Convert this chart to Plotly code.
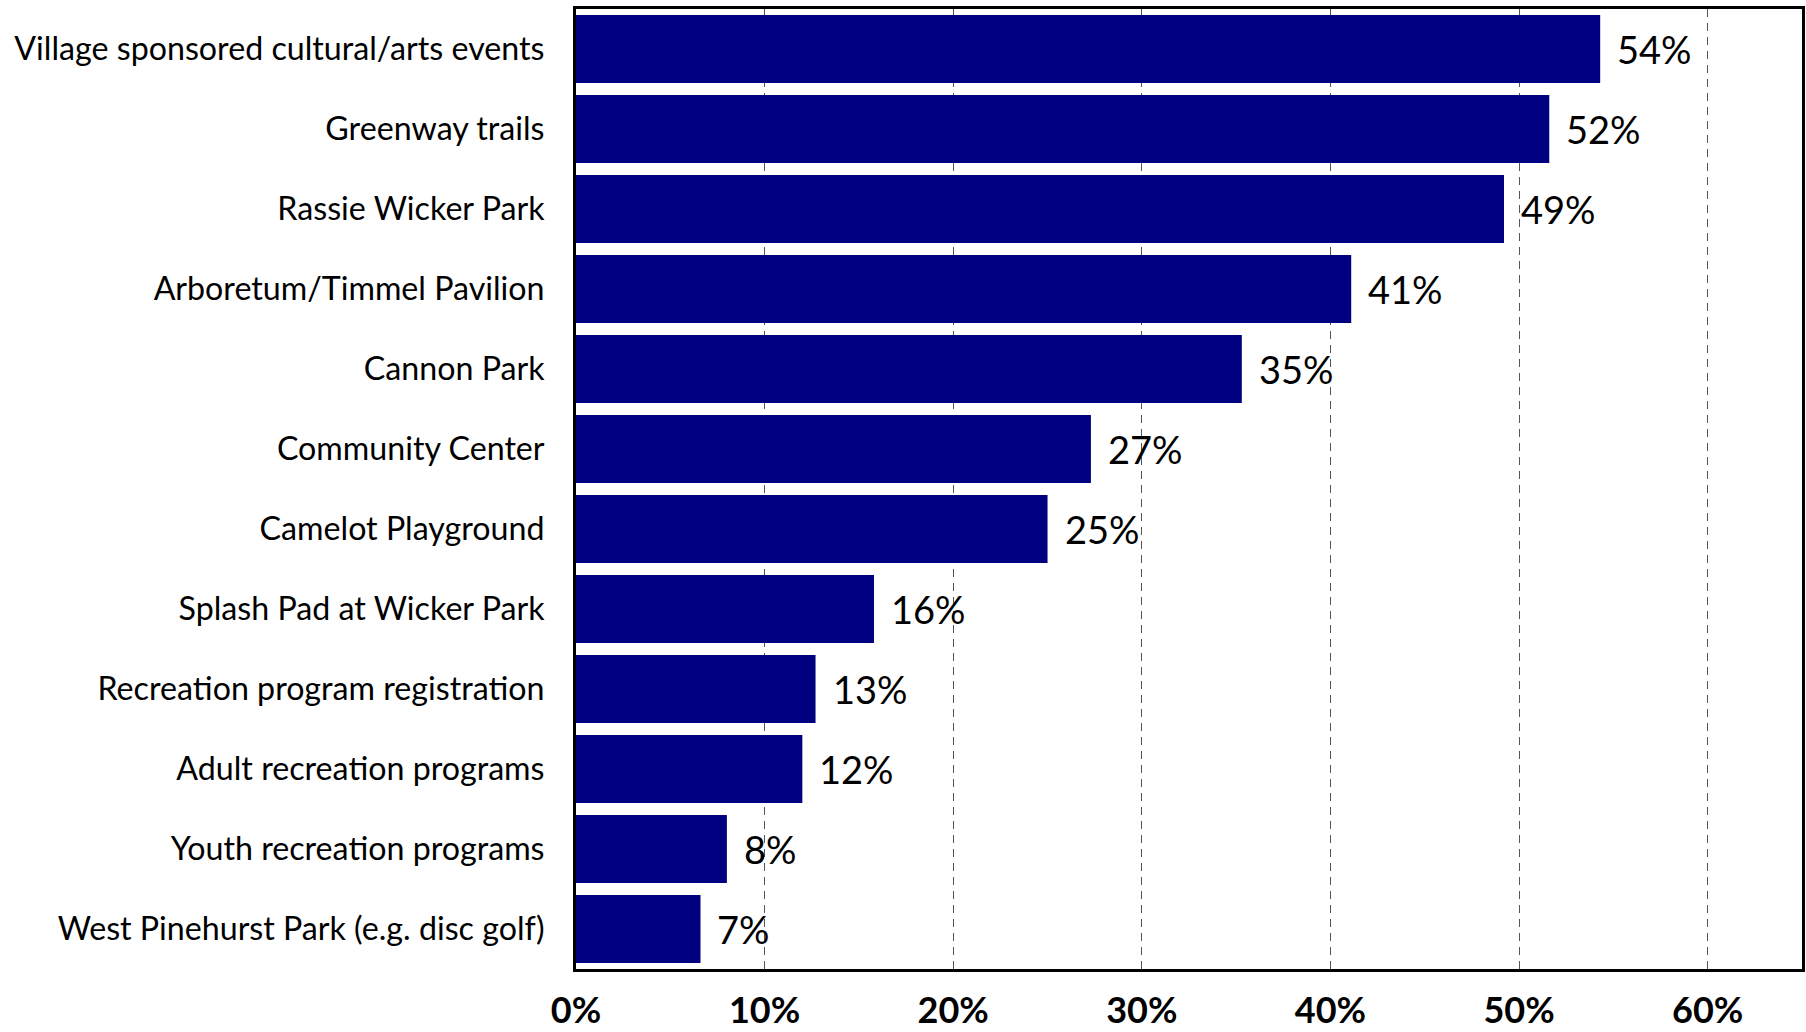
import plotly.graph_objects as go

# Share of respondents who used each facility or program
categories = [
    "Village sponsored cultural/arts events",
    "Greenway trails",
    "Rassie Wicker Park",
    "Arboretum/Timmel Pavilion",
    "Cannon Park",
    "Community Center",
    "Camelot Playground",
    "Splash Pad at Wicker Park",
    "Recreation program registration",
    "Adult recreation programs",
    "Youth recreation programs",
    "West Pinehurst Park (e.g. disc golf)",
]
percent_used = [54.3, 51.6, 49.2, 41.1, 35.3, 27.3, 25.0, 15.8, 12.7, 12.0, 8.0, 6.6]
x_tick_values = [0, 10, 20, 30, 40, 50, 60]
x_tick_labels = ["0%", "10%", "20%", "30%", "40%", "50%", "60%"]

BAR_COLOR = "#000080"
FONT = "Lato"

fig = go.Figure()
fig.add_trace(go.Bar(
    x=percent_used,
    y=categories,
    orientation="h",
    marker=dict(color=BAR_COLOR, line=dict(width=0)),
    hoverinfo="skip",
))

# value labels to the right of each bar
for cat, val in zip(categories, percent_used):
    fig.add_annotation(
        x=val, y=cat, text=f"{val:.0f}%",
        xanchor="left", yanchor="middle", xshift=15, showarrow=False,
        font=dict(family=FONT, size=38, color="#000000"),
    )

fig.update_layout(
    width=1806, height=1032,
    margin=dict(l=576, r=4, t=9, b=63),
    paper_bgcolor="white", plot_bgcolor="white",
    bargap=0.15, showlegend=False,
)
fig.update_xaxes(
    range=[0, 65], automargin=False,
    tickvals=x_tick_values, ticktext=x_tick_labels,
    tickfont=dict(family=FONT, size=36, color="#000000", weight="bold"),
    ticks="", ticklabelstandoff=8,
    showgrid=True, gridcolor="#555555", gridwidth=1.2, griddash="8px,6px",
    zeroline=False,
    showline=True, linecolor="#000000", linewidth=3, mirror=True,
)
fig.update_yaxes(
    autorange="reversed", automargin=False,
    tickfont=dict(family=FONT, size=32.2, color="#000000"),
    ticks="", ticklabelstandoff=22,
    showgrid=False, zeroline=False,
    showline=True, linecolor="#000000", linewidth=3, mirror=True,
)

fig.write_html("out.html")
